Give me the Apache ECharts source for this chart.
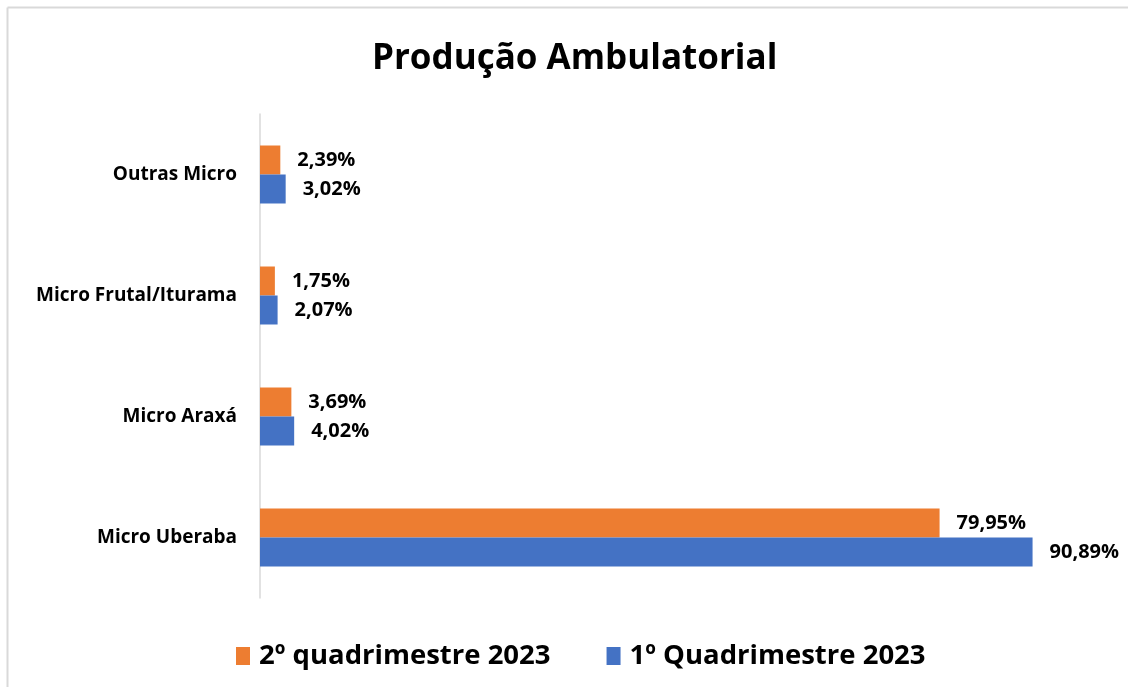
<!DOCTYPE html>
<html>
<head>
<meta charset="utf-8">
<script src="https://cdn.jsdelivr.net/npm/echarts@6/dist/echarts.min.js"></script>
<style>
  html, body { margin: 0; padding: 0; background: #fff; }
  #chart { width: 1128px; height: 687px; }
</style>
</head>
<body>
<div id="chart"></div>
<script>
  // categorias de baixo para cima (eixo y)
  const categorias = ['Micro Uberaba', 'Micro Araxá', 'Micro Frutal/Iturama', 'Outras Micro'];
  const quad1 = [90.89, 4.02, 2.07, 3.02];
  const quad2 = [79.95, 3.69, 1.75, 2.39];
  const nomeQuad1 = '1º Quadrimestre 2023';
  const nomeQuad2 = '2º quadrimestre 2023';

  const fonte = '"Open Sans", "Noto Sans", sans-serif';

  let myChart = echarts.init(document.getElementById('chart'));

  const rotulo = {
    show: true,
    position: 'right',
    distance: 17,
    fontFamily: fonte,
    fontWeight: 'bold',
    fontSize: 20,
    color: '#000',
    formatter: function (p) {
      return p.value.toFixed(2).replace('.', ',') + '%';
    }
  };

  let option = {
    animation: false,
    backgroundColor: '#fff',
    title: {
      text: 'Produção Ambulatorial',
      left: 367,
      top: 37,
      textStyle: {
        fontFamily: fonte,
        fontWeight: 'bold',
        fontSize: 35,
        color: '#000'
      }
    },
    legend: {
      data: [nomeQuad2, nomeQuad1],
      bottom: 12,
      left: 231,
      itemWidth: 14,
      itemHeight: 18,
      itemGap: 56,
      icon: 'rect',
      textStyle: {
        fontFamily: fonte,
        fontWeight: 'bold',
        fontSize: 27.5,
        color: '#000',
        padding: [0, 0, 0, 4]
      }
    },
    grid: {
      left: 260,
      right: 18,
      top: 114,
      bottom: 89,
      containLabel: false
    },
    xAxis: {
      type: 'value',
      min: 0,
      max: 100,
      show: false
    },
    yAxis: {
      type: 'category',
      data: categorias,
      axisLine: { show: true, lineStyle: { color: '#d9d9d9', width: 1.5 } },
      axisTick: { show: false },
      axisLabel: {
        margin: 23,
        fontFamily: fonte,
        fontWeight: 'bold',
        fontSize: 19,
        color: '#000'
      }
    },
    series: [
      // a primeira série fica embaixo em cada grupo
      {
        name: nomeQuad2,
        type: 'bar',
        data: quad2,
        barWidth: 29,
        barGap: '0%',
        itemStyle: { color: '#ed7d31' },
        label: rotulo
      },
      {
        name: nomeQuad1,
        type: 'bar',
        data: quad1,
        barWidth: 29,
        barGap: '0%',
        itemStyle: { color: '#4472c4' },
        label: rotulo
      }
    ],
    graphic: [
      // moldura cinza do gráfico (só topo e esquerda visíveis)
      { type: 'line', shape: { x1: 7.5, y1: 7.5, x2: 1128, y2: 7.5 }, style: { stroke: '#d9d9d9', lineWidth: 2 } },
      { type: 'line', shape: { x1: 7.5, y1: 7.5, x2: 7.5, y2: 687 }, style: { stroke: '#d9d9d9', lineWidth: 2 } }
    ]
  };

  myChart.setOption(option);
</script>
</body>
</html>
